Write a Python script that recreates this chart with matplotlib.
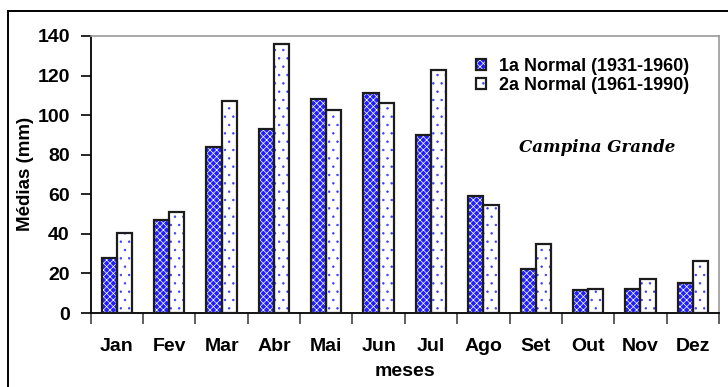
import numpy as np
import matplotlib
matplotlib.use("Agg")
import matplotlib.pyplot as plt
from matplotlib.patches import Rectangle
from matplotlib.legend_handler import HandlerTuple

# Monthly rainfall normals, Campina Grande (mm)
meses = ["Jan", "Fev", "Mar", "Abr", "Mai", "Jun",
         "Jul", "Ago", "Set", "Out", "Nov", "Dez"]
normal_1931_1960 = [28, 47, 84, 93, 108, 111, 90, 59, 22, 11.5, 12.3, 15]
normal_1961_1990 = [40.5, 51, 107, 136, 102.5, 106, 123, 54.5, 35, 12.3, 17, 26.4]
serie_labels = ["1a Normal (1931-1960)", "2a Normal (1961-1990)"]
y_ticks = [0, 20, 40, 60, 80, 100, 120, 140]

W, H = 728, 387
BLUE = "#1f1fff"
DOT = "#3b3bff"
EDGE = "#1c1c1c"
FS = 14

plt.rcParams["font.family"] = ["Liberation Sans", "DejaVu Sans"]
plt.rcParams["font.weight"] = "bold"
plt.rcParams["hatch.linewidth"] = 0.5

fig = plt.figure(figsize=(W / 100, H / 100), dpi=100)
fig.patch.set_facecolor("white")

# outer frame (only left/top edges fall inside the canvas)
fig.patches.append(Rectangle((8 / W, -0.1), 1.2, 1 - 11 / H + 0.1,
                             transform=fig.transFigure, fill=False,
                             edgecolor="black", lw=1.4))

left, right, top, bottom = 90.7, 719, 36, 313
ax = fig.add_axes([left / W, 1 - bottom / H, (right - left) / W, (bottom - top) / H])

x = np.arange(len(meses))
bw = 0.29
# first normal: blue fill with fine white cross-hatch, then the outline on top
b1 = ax.bar(x - bw / 2, normal_1931_1960, bw, color=BLUE, edgecolor="white",
            hatch="xxxxx", lw=0, zorder=2)
o1 = ax.bar(x - bw / 2, normal_1931_1960, bw, fill=False, edgecolor=EDGE,
            lw=1.6, zorder=3)
# second normal: white with sparse blue dots
b2 = ax.bar(x + bw / 2, normal_1961_1990, bw, color="white", edgecolor=DOT,
            hatch="..", lw=0, zorder=2)
o2 = ax.bar(x + bw / 2, normal_1961_1990, bw, fill=False, edgecolor=EDGE,
            lw=1.6, zorder=3)

ax.set_xlim(-0.5, len(meses) - 0.5)
ax.set_ylim(0, 140)
ax.set_yticks(y_ticks)
ax.tick_params(axis="y", direction="out", length=7, width=1.2, pad=8,
               labelsize=FS, colors="black")
ax.set_xticks(x)
ax.set_xticklabels(meses)
ax.set_xticks(np.arange(len(meses) + 1) - 0.5, minor=True)
ax.tick_params(axis="x", which="major", length=0, pad=18, labelsize=FS)
ax.tick_params(axis="x", which="minor", direction="out", length=8,
               width=1.2, color="#444444")
for lab in ax.get_xticklabels() + ax.get_yticklabels():
    lab.set_fontweight("bold")

for side in ("left", "bottom"):
    ax.spines[side].set_color("black")
    ax.spines[side].set_linewidth(1.3)
for side in ("top", "right"):
    ax.spines[side].set_color("#9a9a9a")
    ax.spines[side].set_linewidth(1.2)

fig.text(25 / W, 1 - 174 / H, "Médias (mm)", rotation=90, ha="center",
         va="center", fontsize=13.5, fontweight="bold")
fig.text(405 / W, 1 - 376.5 / H, "meses", ha="center", va="baseline",
         fontsize=FS, fontweight="bold")

leg = ax.legend([(b1[0], o1[0]), (b2[0], o2[0])], serie_labels,
                handler_map={tuple: HandlerTuple(ndivide=1)},
                loc="upper left", bbox_to_anchor=(476 / W, 1 - 58 / H),
                bbox_transform=fig.transFigure, frameon=False, fontsize=13,
                handlelength=0.55, handleheight=0.55, handletextpad=0.7,
                labelspacing=0.12, borderpad=0, borderaxespad=0)
for t in leg.get_texts():
    t.set_fontweight("bold")

fig.text(597 / W, 1 - 147 / H, "Campina Grande", ha="center", va="center",
         fontsize=12, fontweight="bold", fontstyle="italic",
         family="DejaVu Serif")

fig.savefig("out.png", dpi=100)
